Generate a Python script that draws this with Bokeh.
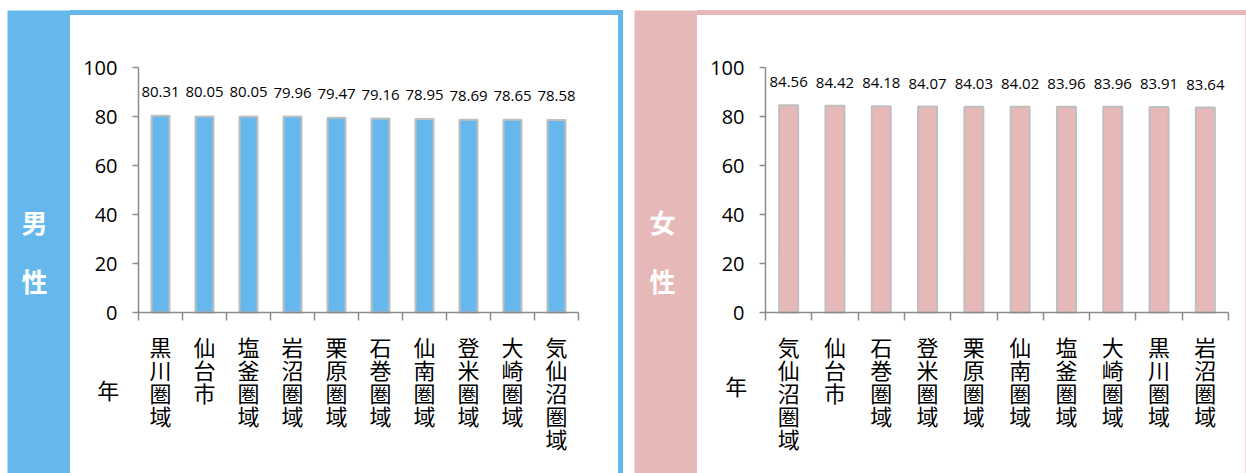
from bokeh.plotting import figure
from bokeh.models import Range1d, FixedTicker, Spacer
from bokeh.layouts import row, column
from bokeh.core.properties import value
from bokeh.embed import file_html
from bokeh.resources import INLINE

# ---- data ----
male_regions = ["黒川圏域", "仙台市", "塩釜圏域", "岩沼圏域", "栗原圏域",
                "石巻圏域", "仙南圏域", "登米圏域", "大崎圏域", "気仙沼圏域"]
male_values = [80.31, 80.05, 80.05, 79.96, 79.47, 79.16, 78.95, 78.69, 78.65, 78.58]

female_regions = ["気仙沼圏域", "仙台市", "石巻圏域", "登米圏域", "栗原圏域",
                  "仙南圏域", "塩釜圏域", "大崎圏域", "黒川圏域", "岩沼圏域"]
female_values = [84.56, 84.42, 84.18, 84.07, 84.03, 84.02, 83.96, 83.96, 83.91, 83.64]

y_ticks = [0, 20, 40, 60, 80, 100]
unit_label = "年"
male_side = ["男", "性"]
female_side = ["女", "性"]

BLUE = "#66B8EC"
PINK = "#E6B8B7"
AXIS = "#8C8C8C"
CJK = "Noto Sans CJK JP"
NUM = "Open Sans"

PANEL_H = 458          # height of the white plotting area (px)
AX_LEFT = 68           # px from panel left to the value axis
AX_TOP = 52            # px from panel top to value 100
AX_BOTTOM = 297        # px from panel top to value 0


def bar_block(width, height, color):
    return Spacer(width=width, height=height, styles={"background-color": color})


def side_strip(chars, color, width, cx):
    s = figure(width=width, height=463, x_range=Range1d(0, width), y_range=Range1d(463, 0),
               x_axis_location=None, y_axis_location=None, min_border=0,
               toolbar_location=None, output_backend="svg",
               background_fill_color=color, border_fill_color=color,
               outline_line_color=None)
    s.grid.visible = False
    s.text(x=[cx] * len(chars), y=[211, 270], text=chars,
           text_font=value(CJK), text_font_size="26px", text_font_style="bold",
           text_color="white", text_align="center", text_baseline="middle")
    return s


def main_panel(regions, values, width, cat_px, color, nen_x, nen_y, off):
    n = len(values)
    idx = list(range(n))
    ppu = (AX_BOTTOM - AX_TOP) / 100.0
    xr = Range1d(-0.5 - AX_LEFT / cat_px, -0.5 + (width - AX_LEFT) / cat_px)
    yr = Range1d(-(PANEL_H - AX_BOTTOM) / ppu, 100 + AX_TOP / ppu)
    p = figure(width=width, height=PANEL_H, x_range=xr, y_range=yr,
               toolbar_location=None, output_backend="svg", min_border=0,
               background_fill_color="white", border_fill_color="white",
               outline_line_color=None)
    p.grid.visible = False
    p.vbar(x=idx, top=values, bottom=0, width=0.41, fill_color=color,
           line_color="#BFBFBF", line_width=2)
    p.text(x=idx, y=values, text=["%.2f" % v for v in values], y_offset=off,
           text_align="center", text_baseline="middle", text_font=value(NUM),
           text_font_size="15px", text_color="black")
    p.text(x=[nen_x], y=[nen_y], text=[unit_label], text_font=value(CJK),
           text_font_size="22px", text_color="black",
           text_align="center", text_baseline="middle")

    ya = p.yaxis[0]
    ya.fixed_location = -0.5
    ya.bounds = (0, 100)
    ya.ticker = FixedTicker(ticks=y_ticks)
    ya.axis_line_color = AXIS
    ya.axis_line_width = 1.5
    ya.major_tick_line_color = AXIS
    ya.major_tick_line_width = 1.5
    ya.major_tick_out = 6
    ya.major_tick_in = 0
    ya.minor_tick_line_color = None
    ya.major_label_standoff = 15
    ya.major_label_text_font = NUM
    ya.major_label_text_font_size = "20px"
    ya.major_label_text_color = "black"

    xa = p.xaxis[0]
    xa.fixed_location = 0
    xa.bounds = (-0.5, n - 0.5)
    xa.ticker = FixedTicker(ticks=idx, minor_ticks=[i - 0.5 for i in range(n + 1)])
    xa.axis_line_color = AXIS
    xa.axis_line_width = 1.5
    xa.major_tick_line_color = None
    xa.major_tick_out = 8
    xa.major_tick_in = 0
    xa.minor_tick_line_color = AXIS
    xa.minor_tick_line_width = 1.5
    xa.minor_tick_out = 8
    xa.minor_tick_in = 0
    xa.major_label_overrides = {i: "\n".join(r) for i, r in enumerate(regions)}
    xa.major_label_standoff = 9
    xa.major_label_text_font = CJK
    xa.major_label_text_font_size = "22px"
    xa.major_label_text_line_height = 0.72
    xa.major_label_text_color = "black"
    return p


male = main_panel(male_regions, male_values, 548, 44.0, BLUE, -1.19, -31.4, -24)
female = main_panel(female_regions, female_values, 548, 46.3, PINK, -1.13, -29.4, -23)

left_panel = row(side_strip(male_side, BLUE, 63, 27),
                 column(bar_block(553, 5, BLUE),
                        row(male, bar_block(5, PANEL_H, BLUE))))
right_panel = row(side_strip(female_side, PINK, 63, 28),
                  column(bar_block(549, 5, PINK),
                         row(female, bar_block(1, PANEL_H, "#F2DCDB"))))

layout = column(Spacer(height=10),
                row(Spacer(width=7), left_panel, Spacer(width=11), right_panel))

open("out.html", "w").write(file_html(layout, INLINE))
